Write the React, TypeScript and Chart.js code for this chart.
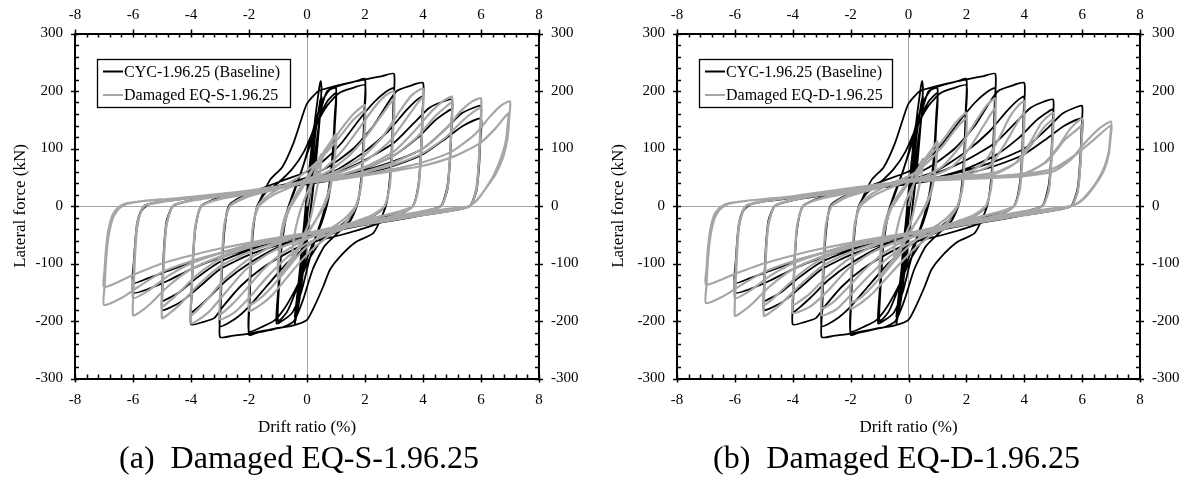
import React, { useEffect, useRef } from 'react';
import { Chart, registerables } from 'chart.js';

Chart.register(...registerables);

type Pt = [number, number];

const FONT = "'Liberation Serif', 'Times New Roman', Times, serif";

// axis tick labels
const xTickValues = [-8, -6, -4, -2, 0, 2, 4, 6, 8];
const yTickValues = [-300, -200, -100, 0, 100, 200, 300];
const xMinorStep = 0.4;
const yMinorStep = 20;

const baselineLabel = 'CYC-1.96.25 (Baseline)';

// ---------- Baseline CYC-1.96.25 (black), drift % vs force kN ----------
const cycBase025: Pt[] = [[0,0],[0.1,70],[0.2,125],[0.25,140],[0.2,100],[0.1,40],[0,-20],[-0.1,-75],[-0.2,-120],[-0.25,-130],[-0.2,-95],[-0.1,-35],[0,20],[0.1,75],[0.2,120],[0.25,135],[0.2,95],[0.1,35],[0,-25],[-0.1,-80],[-0.2,-118],[-0.25,-128]];
const cycBase050: Pt[] = [[-0.2,-80],[-0.1,-30],[0,25],[0.15,95],[0.3,160],[0.42,205],[0.47,217],[0.5,206],[0.45,160],[0.35,100],[0.2,30],[0.05,-40],[-0.1,-100],[-0.25,-160],[-0.38,-195],[-0.42,-204],[-0.35,-160],[-0.2,-90],[0,-10],[0.15,60],[0.3,130],[0.45,182],[0.5,190],[0.42,140],[0.3,70],[0.1,-20],[-0.1,-90],[-0.3,-160],[-0.42,-192]];
const cycBase100: Pt[] = [[-0.3,-140],[-0.1,-60],[0.1,20],[0.3,100],[0.5,170],[0.7,200],[1.0,205],[0.96,160],[0.88,90],[0.75,30],[0.55,-15],[0.3,-55],[0.05,-100],[-0.2,-150],[-0.5,-185],[-0.8,-198],[-1.05,-204],[-1.0,-150],[-0.9,-80],[-0.75,-20],[-0.5,20],[-0.2,60],[0.1,105],[0.4,150],[0.7,182],[1.0,196],[0.96,140],[0.88,70],[0.75,15],[0.5,-30],[0.2,-65],[-0.1,-105],[-0.4,-150],[-0.7,-185],[-1.0,-200]];
const cycBase200: Pt[] = [[-0.95,-130],[-0.85,-60],[-0.65,-5],[-0.4,30],[-0.1,75],[0.2,130],[0.5,180],[0.8,203],[1.3,212],[1.7,217],[2.0,221],
  [1.98,170],[1.93,100],[1.85,40],[1.72,0],[1.5,-25],[1.1,-45],[0.6,-70],[0.2,-110],[-0.15,-165],[-0.45,-200],[-0.8,-210],[-1.3,-216],[-1.7,-220],[-2.0,-224],
  [-1.98,-170],[-1.93,-100],[-1.85,-40],[-1.72,0],[-1.45,22],[-1.0,40],[-0.5,65],[-0.1,95],[0.3,140],[0.7,175],[1.1,196],[1.5,204],[2.0,210],
  [1.98,160],[1.93,90],[1.85,35],[1.72,0],[1.45,-22],[1.0,-40],[0.5,-60],[0.1,-90],[-0.3,-135],[-0.7,-172],[-1.1,-198],[-1.5,-209],[-2.0,-218]];
const cycBase300: Pt[] = [[-1.98,-160],[-1.93,-90],[-1.85,-35],[-1.7,0],[-1.28,45],[-0.85,68],[-0.47,109],[-0.2,150],[0,178],[0.4,200],[1.0,209],[1.6,216],[2.1,221],[2.6,226],[3.0,230],
  [2.98,180],[2.93,110],[2.85,45],[2.72,0],[2.29,-47],[1.7,-62],[1.25,-82],[0.8,-110],[0.56,-140],[0.25,-175],[0,-198],[-0.5,-208],[-1.2,-214],[-2.0,-222],[-2.6,-226],[-3.0,-228],
  [-2.98,-180],[-2.93,-110],[-2.85,-45],[-2.7,0],[-2.3,15],[-1.6,30],[-0.8,45],[0,60],[0.6,80],[1.2,110],[1.8,150],[2.3,180],[2.7,198],[3.0,205],
  [2.98,160],[2.93,95],[2.85,40],[2.7,0],[2.2,-20],[1.5,-35],[0.8,-50],[0,-70],[-0.7,-100],[-1.4,-140],[-2.0,-175],[-2.5,-197],[-3.0,-209]];
const cycBase400: Pt[] = [[-2.98,-165],[-2.93,-100],[-2.85,-40],[-2.7,0],[-2.2,15],[-1.4,28],[-0.6,40],[0,50],[0.8,70],[1.6,100],[2.3,140],[2.8,180],[3.1,200],[3.5,208],[4.0,214],
  [3.98,165],[3.93,100],[3.85,40],[3.65,0],[3.0,-20],[2.2,-35],[1.2,-50],[0,-65],[-0.8,-85],[-1.6,-110],[-2.3,-140],[-2.9,-175],[-3.2,-195],[-3.6,-202],[-4.0,-206],
  [-3.98,-160],[-3.93,-95],[-3.85,-40],[-3.65,0],[-3.0,15],[-2.0,25],[-1.0,35],[0,45],[1.0,62],[2.0,95],[2.8,130],[3.4,165],[3.8,185],[4.0,190],
  [3.98,145],[3.93,85],[3.84,35],[3.65,0],[3.0,-15],[2.0,-28],[1.0,-40],[0,-55],[-1.0,-72],[-2.0,-100],[-2.8,-130],[-3.4,-160],[-3.8,-178],[-4.0,-185]];
const cycBase500: Pt[] = [[-3.98,-145],[-3.93,-85],[-3.84,-35],[-3.65,0],[-3.0,15],[-2.0,25],[-1.0,35],[0,45],[1.0,58],[2.0,80],[3.0,110],[3.7,145],[4.2,170],[4.6,180],[5.0,185],
  [4.98,145],[4.93,85],[4.84,35],[4.62,0],[4.0,-12],[3.0,-22],[2.0,-32],[1.0,-43],[0,-55],[-1.0,-68],[-2.0,-85],[-3.0,-110],[-3.7,-140],[-4.3,-165],[-4.7,-176],[-5.0,-181],
  [-4.98,-140],[-4.93,-80],[-4.84,-30],[-4.62,0],[-4.0,10],[-3.0,18],[-2.0,25],[-1.0,32],[0,40],[1.0,50],[2.0,65],[3.0,88],[3.8,118],[4.4,148],[4.8,163],[5.0,168],
  [4.98,130],[4.93,75],[4.84,28],[4.62,0],[4.0,-10],[3.0,-20],[2.0,-30],[1.0,-40],[0,-50],[-1.0,-62],[-2.0,-77],[-3.0,-97],[-3.8,-125],[-4.4,-150],[-4.8,-161],[-5.0,-165]];
const cycBase600: Pt[] = [[-4.98,-125],[-4.93,-70],[-4.84,-25],[-4.62,0],[-4.0,10],[-3.0,18],[-2.0,25],[-1.0,32],[0,40],[1.0,50],[2.0,62],[3.0,78],[4.0,100],[4.8,135],[5.3,160],[5.7,170],[6.0,174],
  [5.98,135],[5.93,80],[5.84,30],[5.62,0],[5.0,-8],[4.0,-16],[3.0,-25],[2.0,-33],[1.0,-42],[0,-52],[-1.0,-63],[-2.0,-75],[-3.0,-90],[-4.0,-110],[-4.8,-130],[-5.4,-143],[-6.0,-151],
  [-5.98,-115],[-5.93,-65],[-5.84,-25],[-5.62,0],[-5.0,8],[-4.0,14],[-3.0,20],[-2.0,26],[-1.0,32],[0,38],[1.0,46],[2.0,56],[3.0,70],[4.0,90],[4.8,118],[5.4,140],[6.0,152],
  [5.98,115],[5.93,65],[5.84,25],[5.62,0],[5.0,-7],[4.0,-14],[3.0,-22],[2.0,-30],[1.0,-38],[0,-47],[-1.0,-57],[-2.0,-68],[-3.0,-82],[-4.0,-98],[-4.8,-113],[-5.5,-126],[-6.0,-134],
  [-5.97,-95],[-5.9,-50],[-5.75,-12],[-5.5,2],[-5.0,8]];

// ---------- Damaged EQ-S-1.96.25 (grey, panel a) ----------
const eqsC050: Pt[] = [[0,0],[0.1,25],[0.25,55],[0.4,80],[0.5,90],[0.45,60],[0.3,20],[0.1,-25],[-0.1,-50],[-0.3,-75],[-0.5,-88]];
const eqsC100: Pt[] = [[-0.45,-55],[-0.3,-20],[-0.1,10],[0.2,45],[0.5,80],[0.8,110],[1.0,125],[0.94,80],[0.8,35],[0.6,5],[0.3,-25],[0,-50],[-0.4,-85],[-0.8,-115],[-1.0,-125],[-0.94,-80],[-0.8,-35],[-0.6,-5],[-0.3,20],[0,45],[0.4,80],[0.8,110],[1.0,120],[0.94,75],[0.8,30],[0.6,0],[0.3,-25],[0,-47],[-0.4,-80],[-0.8,-110],[-1.0,-120]];
const eqsC200: Pt[] = [[-0.95,-70],[-0.8,-25],[-0.55,5],[-0.2,35],[0.2,65],[0.7,100],[1.2,135],[1.6,160],[2.0,175],[1.96,110],[1.88,40],[1.7,0],[1.3,-30],[0.8,-50],[0.3,-70],[-0.2,-95],[-0.7,-125],[-1.2,-155],[-1.6,-172],[-2.0,-182],
  [-1.96,-110],[-1.87,-40],[-1.7,0],[-1.3,20],[-0.8,35],[-0.3,50],[0.2,70],[0.7,95],[1.2,125],[1.6,150],[2.0,165],[1.95,100],[1.86,35],[1.68,0],[1.3,-22],[0.8,-40],[0.3,-58],[-0.2,-80],[-0.7,-110],[-1.2,-140],[-1.6,-160],[-2.0,-172]];
const eqsC300: Pt[] = [[-1.98,-130],[-1.93,-75],[-1.85,-30],[-1.65,0],[-1.2,18],[-0.6,32],[0,45],[0.6,65],[1.2,95],[1.8,135],[2.3,170],[2.7,192],[3.0,199],
  [2.98,150],[2.93,90],[2.85,35],[2.68,0],[2.2,-20],[1.5,-35],[0.8,-48],[0,-65],[-0.7,-90],[-1.4,-125],[-2.0,-160],[-2.5,-185],[-3.0,-197],
  [-2.98,-150],[-2.93,-90],[-2.85,-35],[-2.67,0],[-2.2,15],[-1.5,26],[-0.8,35],[0,45],[0.8,62],[1.5,90],[2.1,125],[2.6,160],[3.0,185],
  [2.98,140],[2.93,85],[2.85,32],[2.67,0],[2.2,-17],[1.5,-30],[0.8,-42],[0,-57],[-0.8,-80],[-1.5,-110],[-2.1,-145],[-2.6,-172],[-3.0,-188]];
const eqsC400: Pt[] = [[-2.98,-142],[-2.93,-85],[-2.85,-32],[-2.65,0],[-2.1,15],[-1.3,26],[-0.5,36],[0.3,47],[1.1,62],[1.9,85],[2.6,120],[3.2,165],[3.6,192],[4.0,204],
  [3.98,155],[3.93,95],[3.85,38],[3.66,0],[3.1,-15],[2.3,-26],[1.4,-37],[0.5,-48],[-0.4,-62],[-1.3,-82],[-2.1,-110],[-2.8,-150],[-3.4,-185],[-4.0,-204],
  [-3.98,-155],[-3.93,-95],[-3.85,-38],[-3.65,0],[-3.0,13],[-2.0,23],[-1.0,33],[0,43],[1.0,56],[2.0,78],[2.8,110],[3.4,150],[3.8,178],[4.0,189],
  [3.98,145],[3.93,85],[3.85,33],[3.65,0],[3.0,-12],[2.0,-24],[1.0,-36],[0,-48],[-1.0,-65],[-2.0,-92],[-2.8,-125],[-3.4,-160],[-3.8,-182],[-4.0,-190]];
const eqsC500: Pt[] = [[-3.98,-145],[-3.93,-85],[-3.85,-33],[-3.63,0],[-3.0,12],[-2.0,21],[-1.0,31],[0,41],[1.0,52],[2.0,68],[3.0,95],[3.7,130],[4.3,165],[4.7,183],[5.0,190],
  [4.98,145],[4.93,88],[4.85,35],[4.64,0],[4.0,-10],[3.0,-20],[2.0,-29],[1.0,-39],[0,-50],[-1.0,-63],[-2.0,-80],[-3.0,-105],[-3.8,-140],[-4.4,-172],[-4.8,-189],[-5.0,-195],
  [-4.98,-150],[-4.93,-90],[-4.85,-36],[-4.63,0],[-4.0,10],[-3.0,18],[-2.0,26],[-1.0,34],[0,42],[1.0,52],[2.0,66],[3.0,88],[3.8,120],[4.4,155],[4.8,173],[5.0,180],
  [4.98,138],[4.93,82],[4.85,32],[4.63,0],[4.0,-9],[3.0,-18],[2.0,-27],[1.0,-37],[0,-47],[-1.0,-58],[-2.0,-72],[-3.0,-92],[-3.8,-120],[-4.4,-150],[-4.8,-168],[-5.0,-175]];
const eqsC600: Pt[] = [[-4.98,-135],[-4.93,-80],[-4.85,-32],[-4.62,0],[-4.0,9],[-3.0,17],[-2.0,24],[-1.0,32],[0,40],[1.0,49],[2.0,60],[3.0,76],[4.0,100],[4.8,135],[5.3,165],[5.7,182],[6.0,187],
  [5.98,142],[5.93,86],[5.85,35],[5.64,0],[5.0,-8],[4.0,-16],[3.0,-24],[2.0,-32],[1.0,-41],[0,-50],[-1.0,-60],[-2.0,-72],[-3.0,-88],[-4.0,-110],[-4.8,-140],[-5.4,-170],[-5.8,-186],[-6.0,-190],
  [-5.98,-145],[-5.93,-88],[-5.85,-35],[-5.63,0],[-5.0,8],[-4.0,15],[-3.0,21],[-2.0,27],[-1.0,34],[0,41],[1.0,49],[2.0,59],[3.0,72],[4.0,92],[4.8,120],[5.4,150],[5.8,166],[6.0,170],
  [5.98,128],[5.93,76],[5.85,30],[5.63,0],[5.0,-7],[4.0,-15],[3.0,-23],[2.0,-31],[1.0,-39],[0,-48],[-1.0,-57],[-2.0,-68],[-3.0,-82],[-4.0,-100],[-4.8,-122],[-5.5,-148],[-6.0,-160]];
const eqsC700: Pt[] = [[-5.98,-120],[-5.93,-72],[-5.85,-28],[-5.6,0],[-5.0,7],[-4.0,14],[-3.0,20],[-2.0,26],[-1.0,33],[0,40],[1.0,47],[2.0,55],[3.0,64],[4.0,76],[5.0,95],[5.8,125],[6.3,155],[6.7,175],[7.0,182],
  [6.98,158],[6.92,120],[6.77,86],[6.5,55],[6.2,33],[5.9,12],[5.6,0],[5.0,-4],[4.0,-11],[3.0,-20],[2.0,-30],[1.0,-40],[0,-50],[-1.0,-60],[-2.0,-70],[-3.0,-82],[-4.0,-96],[-5.0,-115],[-5.8,-140],[-6.4,-160],[-7.0,-172],
  [-6.98,-140],[-6.93,-95],[-6.85,-55],[-6.7,-22],[-6.5,-5],[-6.2,4],[-5.6,9],[-5.0,11],[-4.0,16],[-3.0,21],[-2.0,27],[-1.0,34],[0,40],[1.0,46],[2.0,53],[3.0,61],[4.0,70],[5.0,85],[5.96,109],[6.5,135],[6.94,161],
  [6.92,140],[6.85,112],[6.7,85],[6.45,55],[6.15,30],[5.85,10],[5.6,0],[5.0,-5],[4.0,-12],[3.0,-20],[2.0,-29],[1.0,-38],[0,-47],[-1.0,-55],[-2.0,-64],[-3.0,-74],[-4.0,-86],[-5.0,-100],[-6.0,-120],[-7.0,-141],
  [-6.98,-112],[-6.93,-75],[-6.85,-42],[-6.7,-15],[-6.5,-2],[-6.2,5],[-5.6,9],[-5.0,12]];

// ---------- Damaged EQ-D-1.96.25 (grey, panel b) ----------
const eqdC050: Pt[] = [[0,0],[0.1,22],[0.25,50],[0.4,72],[0.5,82],[0.45,55],[0.3,18],[0.1,-25],[-0.1,-50],[-0.3,-75],[-0.5,-90]];
const eqdC100: Pt[] = [[-0.45,-55],[-0.3,-20],[-0.1,8],[0.2,40],[0.5,70],[0.8,98],[1.0,112],[0.94,72],[0.8,30],[0.6,3],[0.3,-25],[0,-50],[-0.4,-88],[-0.8,-115],[-1.0,-125],[-0.94,-82],[-0.8,-36],[-0.6,-5],[-0.3,18],[0,40],[0.4,70],[0.8,98],[1.0,108],[0.94,68],[0.8,26],[0.6,0],[0.3,-25],[0,-48],[-0.4,-82],[-0.8,-110],[-1.0,-120]];
const eqdC200: Pt[] = [[-0.95,-72],[-0.8,-26],[-0.55,4],[-0.2,30],[0.2,55],[0.7,85],[1.2,115],[1.6,143],[2.0,162],[1.96,100],[1.88,36],[1.7,0],[1.3,-30],[0.8,-50],[0.3,-70],[-0.2,-95],[-0.7,-122],[-1.2,-150],[-1.6,-167],[-2.0,-178],
  [-1.96,-108],[-1.87,-40],[-1.7,0],[-1.3,20],[-0.8,34],[-0.3,45],[0.2,57],[0.7,78],[1.2,105],[1.6,132],[2.0,152],[1.95,92],[1.86,32],[1.68,0],[1.3,-22],[0.8,-40],[0.3,-58],[-0.2,-80],[-0.7,-108],[-1.2,-137],[-1.6,-157],[-2.0,-168]];
const eqdC300: Pt[] = [[-1.98,-125],[-1.93,-72],[-1.85,-28],[-1.65,0],[-1.2,18],[-0.6,32],[0,44],[0.6,52],[1.2,70],[1.8,105],[2.3,145],[2.7,175],[3.0,187],
  [2.98,140],[2.93,85],[2.85,33],[2.68,0],[2.2,-20],[1.5,-35],[0.8,-48],[0,-65],[-0.7,-90],[-1.4,-123],[-2.0,-155],[-2.5,-180],[-3.0,-190],
  [-2.98,-145],[-2.93,-88],[-2.85,-34],[-2.67,0],[-2.2,16],[-1.5,28],[-0.8,38],[0,46],[0.8,52],[1.5,68],[2.1,100],[2.6,140],[3.0,170],
  [2.98,128],[2.93,78],[2.85,30],[2.67,0],[2.2,-17],[1.5,-30],[0.8,-42],[0,-57],[-0.8,-80],[-1.5,-110],[-2.1,-142],[-2.6,-167],[-3.0,-178]];
const eqdC400: Pt[] = [[-2.98,-135],[-2.93,-82],[-2.85,-31],[-2.65,0],[-2.1,16],[-1.3,28],[-0.5,38],[0.3,46],[1.1,50],[1.9,55],[2.6,75],[3.1,115],[3.5,155],[3.8,175],[4.0,182],
  [3.98,138],[3.93,84],[3.85,33],[3.66,0],[3.1,-15],[2.3,-26],[1.4,-37],[0.5,-48],[-0.4,-62],[-1.3,-82],[-2.1,-110],[-2.8,-148],[-3.4,-175],[-4.0,-186],
  [-3.98,-148],[-3.93,-90],[-3.85,-36],[-3.65,0],[-3.0,14],[-2.0,25],[-1.0,36],[0,45],[1.0,50],[2.0,54],[2.8,70],[3.3,105],[3.7,140],[4.0,162],
  [3.98,122],[3.93,74],[3.85,29],[3.65,0],[3.0,-12],[2.0,-24],[1.0,-36],[0,-48],[-1.0,-65],[-2.0,-90],[-2.8,-122],[-3.4,-152],[-3.8,-167],[-4.0,-172]];
const eqdC500: Pt[] = [[-3.98,-138],[-3.93,-84],[-3.85,-33],[-3.63,0],[-3.0,13],[-2.0,23],[-1.0,34],[0,43],[1.0,48],[2.0,51],[3.0,56],[3.7,75],[4.2,110],[4.6,145],[5.0,162],
  [4.98,125],[4.93,75],[4.85,30],[4.64,0],[4.0,-10],[3.0,-20],[2.0,-29],[1.0,-39],[0,-50],[-1.0,-63],[-2.0,-80],[-3.0,-105],[-3.8,-140],[-4.4,-170],[-4.8,-186],[-5.0,-191],
  [-4.98,-148],[-4.93,-90],[-4.85,-36],[-4.63,0],[-4.0,11],[-3.0,20],[-2.0,29],[-1.0,37],[0,44],[1.0,48],[2.0,52],[3.0,58],[3.8,78],[4.3,110],[4.7,138],[5.0,150],
  [4.98,115],[4.93,70],[4.85,27],[4.63,0],[4.0,-9],[3.0,-18],[2.0,-27],[1.0,-37],[0,-47],[-1.0,-58],[-2.0,-72],[-3.0,-92],[-3.8,-120],[-4.4,-148],[-4.8,-166],[-5.0,-172]];
const eqdC600: Pt[] = [[-4.98,-133],[-4.93,-80],[-4.85,-32],[-4.62,0],[-4.0,10],[-3.0,19],[-2.0,27],[-1.0,35],[0,42],[1.0,46],[2.0,49],[3.0,52],[4.0,57],[4.7,75],[5.2,105],[5.6,135],[6.0,152],
  [5.98,117],[5.93,70],[5.85,28],[5.64,0],[5.0,-8],[4.0,-16],[3.0,-24],[2.0,-32],[1.0,-41],[0,-50],[-1.0,-60],[-2.0,-72],[-3.0,-88],[-4.0,-110],[-4.8,-140],[-5.4,-170],[-5.8,-186],[-6.0,-191],
  [-5.98,-145],[-5.93,-88],[-5.85,-35],[-5.63,0],[-5.0,9],[-4.0,17],[-3.0,24],[-2.0,31],[-1.0,38],[0,43],[1.0,46],[2.0,48],[3.0,51],[4.0,56],[4.8,78],[5.4,115],[5.8,132],[6.0,140],
  [5.98,106],[5.93,64],[5.85,25],[5.63,0],[5.0,-7],[4.0,-15],[3.0,-23],[2.0,-31],[1.0,-39],[0,-48],[-1.0,-57],[-2.0,-68],[-3.0,-82],[-4.0,-100],[-4.8,-122],[-5.5,-148],[-6.0,-160]];
const eqdC700: Pt[] = [[-5.98,-120],[-5.93,-72],[-5.85,-28],[-5.6,0],[-5.0,8],[-4.0,15],[-3.0,22],[-2.0,29],[-1.0,36],[0,42],[1.0,45],[2.0,47],[3.0,49],[4.0,52],[5.0,60],[5.6,80],[6.1,110],[6.6,135],[7.0,147],
  [6.98,125],[6.92,95],[6.77,68],[6.5,42],[6.2,22],[5.9,7],[5.6,0],[5.0,-4],[4.0,-11],[3.0,-20],[2.0,-30],[1.0,-40],[0,-50],[-1.0,-60],[-2.0,-70],[-3.0,-82],[-4.0,-96],[-5.0,-115],[-5.8,-138],[-6.4,-157],[-7.0,-169],
  [-6.98,-138],[-6.93,-93],[-6.85,-54],[-6.7,-21],[-6.5,-5],[-6.2,4],[-5.6,9],[-5.0,12],[-4.0,17],[-3.0,24],[-2.0,30],[-1.0,37],[0,42],[1.0,45],[2.0,47],[3.0,50],[4.0,55],[5.0,65],[5.8,90],[6.4,115],[7.0,140],
  [6.98,118],[6.92,90],[6.77,64],[6.5,40],[6.2,20],[5.9,6],[5.6,0],[5.0,-5],[4.0,-12],[3.0,-20],[2.0,-29],[1.0,-38],[0,-47],[-1.0,-55],[-2.0,-64],[-3.0,-74],[-4.0,-86],[-5.0,-100],[-6.0,-118],[-7.0,-137],
  [-6.98,-110],[-6.93,-74],[-6.85,-41],[-6.7,-14],[-6.5,-2],[-6.2,5],[-5.6,9],[-5.0,12]];

const baselineSeries: Pt[] = [...cycBase025, ...cycBase050, ...cycBase100, ...cycBase200, ...cycBase300, ...cycBase400, ...cycBase500, ...cycBase600];
const eqsSeries: Pt[] = [...eqsC050, ...eqsC100, ...eqsC200, ...eqsC300, ...eqsC400, ...eqsC500, ...eqsC600, ...eqsC700];
const eqdSeries: Pt[] = [...eqdC050, ...eqdC100, ...eqdC200, ...eqdC300, ...eqdC400, ...eqdC500, ...eqdC600, ...eqdC700];

const BLACK = '#000000';
const GREY = '#a6a6a6';

const tickMarksPlugin = {
  id: 'tickMarks',
  afterDatasetsDraw(chart: any) {
    const { ctx, chartArea: a, scales } = chart;
    const xs = scales.x, ys = scales.y;
    const L = 4;
    ctx.save();
    ctx.strokeStyle = '#000';
    ctx.lineWidth = 1.5;
    ctx.beginPath();
    const xMin = xTickValues[0], xMax = xTickValues[xTickValues.length - 1];
    const nX = Math.round((xMax - xMin) / xMinorStep);
    for (let k = 0; k <= nX; k++) {
      const v = xMin + k * xMinorStep;
      const p = Math.round(xs.getPixelForValue(v)) + 0.5;
      const isMajor = xTickValues.some((t) => Math.abs(t - v) < 1e-6);
      if (isMajor) {
        ctx.moveTo(p, a.bottom - L); ctx.lineTo(p, a.bottom + L);
        ctx.moveTo(p, a.top - L); ctx.lineTo(p, a.top + L);
      } else {
        ctx.moveTo(p, a.bottom); ctx.lineTo(p, a.bottom - L);
        ctx.moveTo(p, a.top); ctx.lineTo(p, a.top + L);
      }
    }
    const yMin = yTickValues[0], yMax = yTickValues[yTickValues.length - 1];
    const nY = Math.round((yMax - yMin) / yMinorStep);
    for (let k = 0; k <= nY; k++) {
      const v = yMin + k * yMinorStep;
      const p = Math.round(ys.getPixelForValue(v)) + 0.5;
      const isMajor = yTickValues.some((t) => Math.abs(t - v) < 1e-6);
      if (isMajor) {
        ctx.moveTo(a.left - L, p); ctx.lineTo(a.left + L, p);
        ctx.moveTo(a.right - L, p); ctx.lineTo(a.right + L, p);
      } else {
        ctx.moveTo(a.left, p); ctx.lineTo(a.left + L, p);
        ctx.moveTo(a.right, p); ctx.lineTo(a.right - L, p);
      }
    }
    ctx.stroke();
    ctx.restore();
  },
};

const legendBoxPlugin = {
  id: 'legendBox',
  afterDatasetsDraw(chart: any) {
    const { ctx, chartArea: a } = chart;
    const bx = Math.round(a.left + 22), by = Math.round(a.top + 25.5);
    const bw = 193, bh = 48;
    ctx.save();
    ctx.fillStyle = '#fff';
    ctx.fillRect(bx, by, bw, bh);
    ctx.strokeStyle = '#000';
    ctx.lineWidth = 1.3;
    ctx.strokeRect(bx + 0.5, by + 0.5, bw, bh);
    const items = [...chart.data.datasets].sort((p: any, q: any) => (q.order ?? 0) - (p.order ?? 0));
    items.forEach((ds: any, i: number) => {
      const y = by + 12.5 + i * 23.5;
      ctx.strokeStyle = ds.borderColor;
      ctx.lineWidth = 2;
      ctx.beginPath();
      ctx.moveTo(bx + 6, y);
      ctx.lineTo(bx + 26, y);
      ctx.stroke();
      ctx.fillStyle = '#000';
      ctx.font = `16px ${FONT}`;
      ctx.textBaseline = 'middle';
      ctx.textAlign = 'left';
      ctx.fillText(ds.label, bx + 27, y + 1);
    });
    ctx.restore();
  },
};

function setTicks(values: number[]) {
  return (scale: any) => {
    scale.ticks = values.map((v) => ({ value: v }));
  };
}

function buildConfig(base: Pt[], dmg: Pt[], dmgLabel: string, caption: string, yLeftW: number, yRightW: number): any {
  const tickFont = { family: FONT, size: 15 };
  const titleFont = { family: FONT, size: 17 };
  return {
    type: 'scatter',
    data: {
      datasets: [
        {
          label: dmgLabel,
          data: dmg.map(([x, y]) => ({ x, y })),
          showLine: true,
          borderColor: GREY,
          backgroundColor: GREY,
          borderWidth: 2.2,
          pointRadius: 0,
          tension: 0.2,
          order: 0,
        },
        {
          label: baselineLabel,
          data: base.map(([x, y]) => ({ x, y })),
          showLine: true,
          borderColor: BLACK,
          backgroundColor: BLACK,
          borderWidth: 1.8,
          pointRadius: 0,
          tension: 0.2,
          order: 1,
        },
      ],
    },
    options: {
      animation: false,
      responsive: false,
      events: [],
      layout: { padding: 0 },
      plugins: {
        legend: { display: false },
        tooltip: { enabled: false },
        title: {
          display: true,
          position: 'bottom',
          text: caption,
          color: '#000',
          font: { family: FONT, size: 32, weight: 'normal' },
          padding: { top: 0, bottom: 0 },
        },
      },
      scales: {
        x: {
          type: 'linear', position: 'bottom', min: -8, max: 8,
          afterBuildTicks: setTicks(xTickValues),
          afterFit: (s: any) => { s.height = 62.1; },
          grid: {
            drawTicks: false,
            color: (c: any) => (c.tick && c.tick.value === 0 ? GREY : 'rgba(0,0,0,0)'),
            lineWidth: 1,
          },
          border: { display: true, color: '#000', width: 2 },
          ticks: { padding: 13, color: '#000', font: tickFont, maxRotation: 0, autoSkip: false, callback: (v: any) => `${v}` },
          title: { display: true, text: 'Drift ratio (%)', color: '#000', font: titleFont, padding: { top: 0, bottom: 3 } },
        },
        x2: {
          type: 'linear', position: 'top', min: -8, max: 8,
          afterBuildTicks: setTicks(xTickValues),
          afterFit: (s: any) => { s.height = 33.5; },
          grid: { display: false, drawTicks: false },
          border: { display: true, color: '#000', width: 2 },
          ticks: { padding: 9.5, color: '#000', font: tickFont, maxRotation: 0, autoSkip: false, callback: (v: any) => `${v}` },
        },
        y: {
          type: 'linear', position: 'left', min: -300, max: 300,
          afterBuildTicks: setTicks(yTickValues),
          afterFit: (s: any) => { s.width = yLeftW; },
          grid: {
            drawTicks: false,
            color: (c: any) => (c.tick && c.tick.value === 0 ? GREY : 'rgba(0,0,0,0)'),
            lineWidth: 1,
          },
          border: { display: true, color: '#000', width: 2 },
          ticks: { padding: 12, color: '#000', font: tickFont, autoSkip: false, callback: (v: any) => `${v}` },
          title: { display: true, text: 'Lateral force (kN)', color: '#000', font: titleFont, padding: { top: 10, bottom: 0 } },
        },
        y2: {
          type: 'linear', position: 'right', min: -300, max: 300,
          afterBuildTicks: setTicks(yTickValues),
          afterFit: (s: any) => { s.width = yRightW; },
          grid: { display: false, drawTicks: false },
          border: { display: true, color: '#000', width: 2 },
          ticks: { padding: 12, color: '#000', font: tickFont, autoSkip: false, callback: (v: any) => `${v}` },
        },
      },
    },
    plugins: [tickMarksPlugin, legendBoxPlugin],
  };
}

function Panel(props: { width: number; base: Pt[]; dmg: Pt[]; dmgLabel: string; caption: string; yLeftW: number; yRightW: number }) {
  const ref = useRef<HTMLCanvasElement>(null);
  useEffect(() => {
    if (!ref.current) return;
    const chart = new Chart(ref.current, buildConfig(props.base, props.dmg, props.dmgLabel, props.caption, props.yLeftW, props.yRightW));
    return () => chart.destroy();
  }, []);
  return <canvas ref={ref} width={props.width} height={479} style={{ display: 'block', width: props.width, height: 479 }} />;
}

export default function App() {
  return (
    <div style={{ position: 'fixed', left: 0, top: 0, width: 1195, height: 479, background: '#fff', overflow: 'hidden' }}>
      <div style={{ position: 'absolute', left: 0, top: 0 }}>
        <Panel width={598} base={baselineSeries} dmg={eqsSeries} dmgLabel="Damaged EQ-S-1.96.25" caption="(a)  Damaged EQ-S-1.96.25" yLeftW={75} yRightW={59} />
      </div>
      <div style={{ position: 'absolute', left: 598, top: 0 }}>
        <Panel width={597} base={baselineSeries} dmg={eqdSeries} dmgLabel="Damaged EQ-D-1.96.25" caption="(b)  Damaged EQ-D-1.96.25" yLeftW={79} yRightW={55} />
      </div>
    </div>
  );
}
